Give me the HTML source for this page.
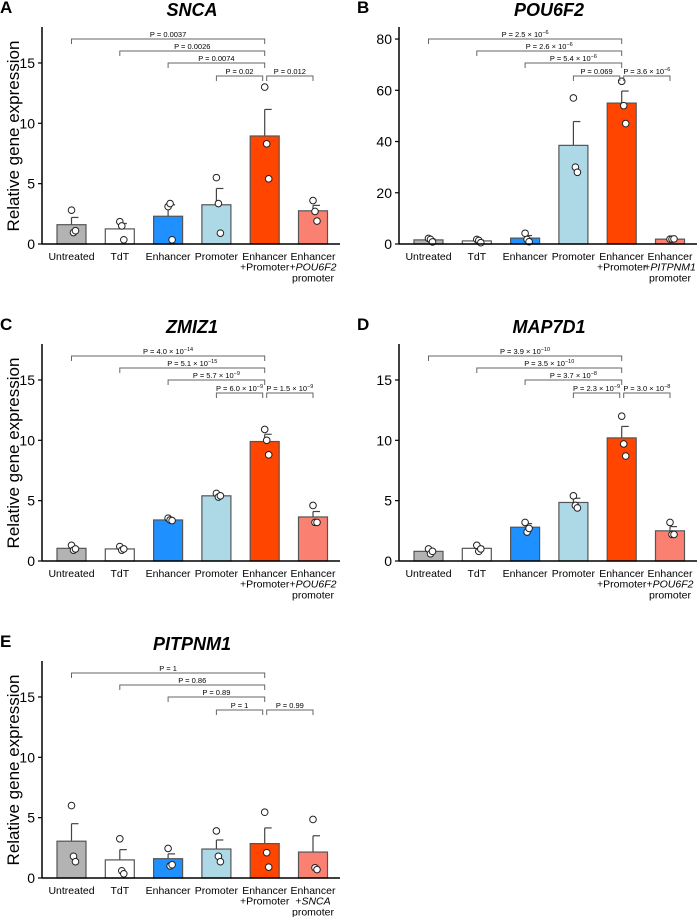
<!DOCTYPE html>
<html><head><meta charset="utf-8"><style>
html,body{margin:0;padding:0;background:#fff}
svg{display:block;font-family:"Liberation Sans",Arial,sans-serif}
</style></head><body>
<svg id="fig" width="698" height="917" viewBox="0 0 698 917"></svg>
<script>
const categories = [["Untreated"],["TdT"],["Enhancer"],["Promoter"],["Enhancer","+Promoter"],["Enhancer","+X","promoter"]];
const colors = ["#b3b3b3","#ffffff","#1e90ff","#add8e6","#ff4500","#fa8072"];

const aMeans=[1.6,1.25,2.3,3.25,8.95,2.75];
const aSems=[0.6,0.45,0.95,1.35,2.2,0.45];
const aPoints=[[2.8,0.95,1.1],[1.85,1.5,0.35],[3.1,3.35,0.35],[5.5,3.35,0.9],[13.0,8.3,5.4],[3.6,2.7,1.9]];
const aPvals=[["0.0037"],["0.0026"],["0.0074"],["0.02"],["0.012"]];

const bMeans=[1.6,1.2,2.3,38.5,55,1.9];
const bSems=[0.4,0.3,1.0,9.3,4.7,0.2];
const bPoints=[[2.2,1.8,0.8],[1.8,1.4,0.5],[4.2,1.8,0.9],[57,30,28],[63.5,54,47],[1.9,1.9,2.0]];
const bPvals=[["2.5","-6"],["2.6","-6"],["5.4","-6"],["0.069"],["3.6","-6"]];

const cMeans=[1.05,1.0,3.4,5.4,9.9,3.65];
const cSems=[0.1,0.1,0.05,0.1,0.6,0.45];
const cPoints=[[1.3,0.9,1.0],[1.2,0.9,1.0],[3.55,3.4,3.35],[5.6,5.3,5.4],[10.9,10.0,8.8],[4.6,3.2,3.2]];
const cPvals=[["4.0","-14"],["5.1","-15"],["5.7","-9"],["6.0","-9"],["1.5","-9"]];

const dMeans=[0.8,1.05,2.8,4.85,10.2,2.5];
const dSems=[0.15,0.15,0.3,0.35,0.95,0.35];
const dPoints=[[1.0,0.6,0.8],[1.3,0.8,1.0],[3.2,2.4,2.7],[5.4,4.6,4.4],[12.0,9.7,8.7],[3.2,2.2,2.2]];
const dPvals=[["3.9","-10"],["3.5","-10"],["3.7","-8"],["2.3","-9"],["3.0","-8"]];

const eMeans=[3.05,1.5,1.6,2.4,2.85,2.15];
const eSems=[1.45,0.85,0.4,0.75,1.3,1.35];
const ePoints=[[6.0,1.8,1.35],[3.25,0.6,0.35],[2.45,1.0,1.1],[3.9,1.8,1.35],[5.45,2.1,0.9],[4.85,0.85,0.7]];
const ePvals=[["1"],["0.86"],["0.89"],["1"],["0.99"]];

const smallTicks=[0,5,10,15];
const bigTicks=[0,20,40,60,80];

const NS="http://www.w3.org/2000/svg";
const svg=document.getElementById('fig');
function mk(tag,attrs,parent,text){const e=document.createElementNS(NS,tag);for(const k in attrs)e.setAttribute(k,attrs[k]);if(text!==undefined)e.textContent=text;(parent||svg).appendChild(e);return e;}

function panel(o){
  const g=mk('g',{});
  
  
  const ax=o.ax, base=o.base, top=base-217;
  const y=v=>base-v*(217/o.ymax);
  const x=i=>ax+29.5+i*48.3;
  const L=mk('text',{x:o.ax-42,y:o.base-231,'font-size':17,'font-weight':'bold'},g,o.letter);
  
  
  const T=mk('text',{x:ax+150,y:base-228,'font-size':18,'font-weight':'bold','font-style':'italic','text-anchor':'middle'},g,o.title);
  
  
  if(o.ylabel){const yl=mk('text',{x:0,y:0,'font-size':17,'text-anchor':'middle',transform:`translate(${ax-23},${base-108}) rotate(-90)`},g,'Relative gene expression');
    }
  o.means.forEach((m,i)=>{
    const cx=x(i);
    const eb=mk('line',{x1:cx,x2:cx,y1:y(m),y2:y(m+o.sems[i]),stroke:'#444','stroke-width':1.2},g);
    
    mk('line',{x1:cx,x2:cx+7,y1:y(m+o.sems[i]),y2:y(m+o.sems[i]),stroke:'#444','stroke-width':1.2},g);
    const r=mk('rect',{x:cx-14.5,y:y(m),width:29,height:base-y(m),fill:colors[i],stroke:'#555','stroke-width':1.2},g);
    
    const jit=[0,2,4];
    o.points[i].forEach((p,k)=>{
      const c=mk('circle',{cx:cx+jit[k],cy:y(p),r:3.3,fill:'#fff',stroke:'#222','stroke-width':1},g);
      
    });
    categories[i].forEach((t,li)=>{
      const tx=mk('text',{x:cx,y:base+16+li*10.7,'font-size':10.5,'text-anchor':'middle'},g);
      
      if(t==='+X'){tx.textContent='+';mk('tspan',{'font-style':'italic'},tx,o.ctrl);}
      else tx.textContent=t;
    });
  });
  const ya=mk('line',{x1:ax,x2:ax,y1:top,y2:base,stroke:'#000','stroke-width':1.5},g);
  
  const xa=mk('line',{x1:ax,x2:ax+298,y1:base,y2:base,stroke:'#000','stroke-width':1.5},g);
  
  o.ticks.forEach(t=>{
    mk('line',{x1:ax-4,x2:ax,y1:y(t),y2:y(t),stroke:'#000','stroke-width':1.2},g);
    const tl=mk('text',{x:ax-7,y:y(t)+5,'font-size':14,'text-anchor':'end'},g,String(t));
    
  });
  const levels=[205,193,181,168,168];
  o.pvals.forEach((pv,k)=>{
    const i1=k<4?k:4, i2=k<4?4:5;
    const x1=x(i1)+(k===4?2:0), x2=x(i2)-(k===3?2:0);
    const ly=base-levels[k];
    const br=mk('path',{d:`M${x1},${ly+5}V${ly}H${x2}V${ly+5}`,fill:'none',stroke:'#666','stroke-width':1},g);
    
    const tx=mk('text',{x:(x1+x2)/2,y:ly-2,'font-size':7.5,'text-anchor':'middle'},g);
    
    if(pv.length===1)tx.textContent='P = '+pv[0];
    else{tx.textContent='P = '+pv[0]+' × 10';mk('tspan',{dy:-3,'font-size':5.5},tx,pv[1].replace('-','−'));}
  });
}
panel({letter:'A',title:'SNCA',ax:42,base:244,ymax:17.98,ticks:smallTicks,means:aMeans,sems:aSems,points:aPoints,pvals:aPvals,ctrl:'POU6F2',ylabel:true});
panel({letter:'B',title:'POU6F2',ax:399,base:244,ymax:84.7,ticks:bigTicks,means:bMeans,sems:bSems,points:bPoints,pvals:bPvals,ctrl:'PITPNM1',ylabel:false});
panel({letter:'C',title:'ZMIZ1',ax:42,base:561,ymax:17.98,ticks:smallTicks,means:cMeans,sems:cSems,points:cPoints,pvals:cPvals,ctrl:'POU6F2',ylabel:true});
panel({letter:'D',title:'MAP7D1',ax:399,base:561,ymax:17.98,ticks:smallTicks,means:dMeans,sems:dSems,points:dPoints,pvals:dPvals,ctrl:'POU6F2',ylabel:false});
panel({letter:'E',title:'PITPNM1',ax:42,base:878,ymax:17.98,ticks:smallTicks,means:eMeans,sems:eSems,points:ePoints,pvals:ePvals,ctrl:'SNCA',ylabel:true});
</script>
</body></html>
